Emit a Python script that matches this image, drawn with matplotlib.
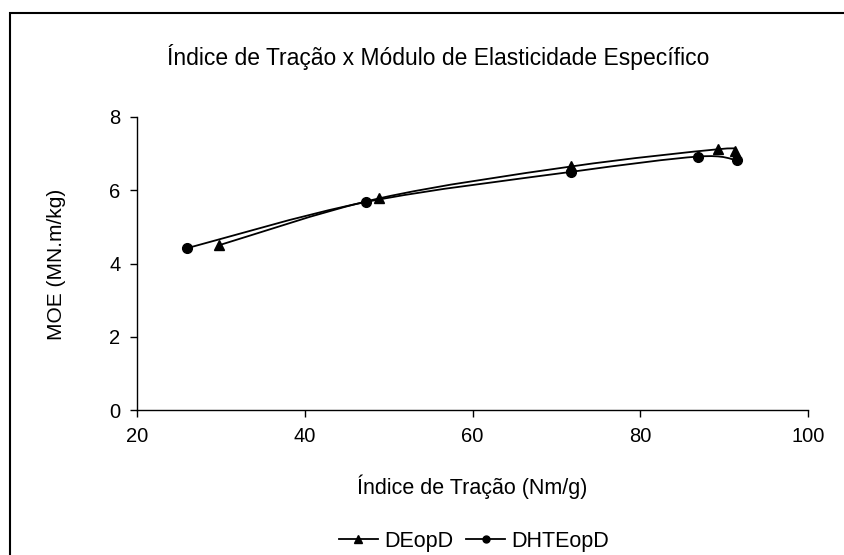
import numpy as np
import matplotlib
matplotlib.use("Agg")
import matplotlib.pyplot as plt
from matplotlib.path import Path
from matplotlib.patches import PathPatch, Rectangle
from matplotlib.lines import Line2D

plt.rcParams["font.family"] = ["Liberation Sans", "DejaVu Sans"]

# ── Data ──
de_x = [29.8, 48.9, 71.8, 89.3, 91.3]
de_y = [4.50, 5.78, 6.65, 7.12, 7.08]
dhte_x = [26.0, 47.3, 71.7, 86.9, 91.5]
dhte_y = [4.42, 5.68, 6.50, 6.92, 6.82]

series_labels = ["DEopD", "DHTEopD"]
x_ticks = [20, 40, 60, 80, 100]
y_ticks = [0, 2, 4, 6, 8]

title = "Índice de Tração x Módulo de Elasticidade Específico"
xlabel = "Índice de Tração (Nm/g)"
ylabel = "MOE (MN.m/kg)"


def smooth_path(xs, ys):
    """Courbe lissée façon Excel (Bezier type Catmull-Rom)."""
    p = np.column_stack([xs, ys])
    n = len(p)
    verts = [p[0]]
    codes = [Path.MOVETO]
    for i in range(n - 1):
        p0 = p[i - 1] if i > 0 else p[i]
        p3 = p[i + 2] if i + 2 < n else p[i + 1]
        c1 = p[i] + (p[i + 1] - p0) / 6.0
        c2 = p[i + 1] - (p3 - p[i]) / 6.0
        verts += [c1, c2, p[i + 1]]
        codes += [Path.CURVE4] * 3
    return Path(verts, codes)


fig = plt.figure(figsize=(8.44, 5.55), dpi=100)
ax = fig.add_axes([137 / 844, 1 - 410 / 555, (808 - 137) / 844, (410 - 117) / 555])

for xs, ys, mk, ms in [(de_x, de_y, "^", 7.5), (dhte_x, dhte_y, "o", 7)]:
    ax.add_patch(PathPatch(smooth_path(xs, ys), facecolor="none",
                           edgecolor="black", lw=1.3))
    ax.plot(xs, ys, linestyle="none", marker=mk, color="black", markersize=ms)

ax.set_xlim(20, 100)
ax.set_ylim(0, 8)
ax.set_xticks(x_ticks)
ax.set_yticks(y_ticks)
ax.tick_params(labelsize=14.5, direction="out", length=5, width=1, pad=7)
for side in ["top", "right"]:
    ax.spines[side].set_visible(False)
for side in ["left", "bottom"]:
    ax.spines[side].set_linewidth(1)

fig.text(438 / 844, 1 - 57 / 555, title, ha="center", va="center", fontsize=16.5)
fig.text(472 / 844, 1 - 487 / 555, xlabel, ha="center", va="center", fontsize=15.5)
fig.text(57 / 844, 1 - 264 / 555, ylabel, ha="center", va="center",
         rotation=90, fontsize=15)

handles = [
    Line2D([], [], color="black", lw=1.3, marker="^", markersize=6),
    Line2D([], [], color="black", lw=1.3, marker="o", markersize=5),
]
fig.legend(handles, series_labels, loc="center", ncol=2,
           bbox_to_anchor=(474 / 844, 1 - 541 / 555), frameon=False,
           fontsize=15.5, handlelength=1.8, handletextpad=0.3,
           columnspacing=0.6)

# cadre du graphique (coupé à droite et en bas)
fig.patches.append(Rectangle((10 / 844, -0.1), 1.0, 1 - 13 / 555 + 0.1,
                             transform=fig.transFigure, fill=False,
                             edgecolor="black", lw=1.5))

fig.savefig("out.png", dpi=100)
